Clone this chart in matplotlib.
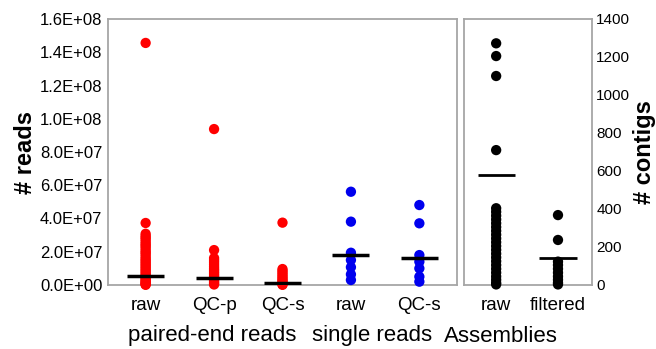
import matplotlib
matplotlib.use("Agg")
import matplotlib.pyplot as plt
import numpy as np

plt.rcParams['font.family'] = ['Liberation Sans', 'DejaVu Sans']

# ---- data ----
read_categories = ["raw", "QC-p", "QC-s", "raw", "QC-s"]
read_colors = ["#ff0000", "#ff0000", "#ff0000", "#0000ee", "#0000ee"]

pe_raw = [1.456e8, 3.73e7, 3.08e7, 2.95e7, 2.85e7, 2.75e7, 2.62e7, 2.5e7, 2.4e7, 2.3e7,
          2.18e7, 2.05e7, 1.95e7, 1.85e7, 1.72e7, 1.6e7, 1.5e7, 1.4e7, 1.3e7, 1.2e7,
          1.1e7, 1.0e7, 9.0e6, 8.0e6, 7.0e6, 6.0e6, 5.2e6, 4.5e6, 3.8e6, 3.0e6,
          2.4e6, 1.8e6, 1.2e6, 8.0e5, 4.0e5, 1.0e5]
pe_qcp = [9.38e7, 2.1e7, 1.62e7, 1.5e7, 1.38e7, 1.25e7, 1.12e7, 1.0e7, 9.0e6, 8.0e6,
          7.0e6, 6.0e6, 5.0e6, 4.0e6, 3.2e6, 2.4e6, 1.6e6, 9.0e5, 3.0e5]
pe_qcs = [3.75e7, 9.6e6, 8.5e6, 7.4e6, 6.3e6, 5.2e6, 4.2e6, 3.2e6, 2.4e6, 1.6e6,
          9.0e5, 4.0e5, 1.0e5]
se_raw = [5.61e7, 3.81e7, 1.94e7, 1.5e7, 1.07e7, 6.4e6, 3.0e6]
se_qcs = [4.81e7, 3.71e7, 1.8e7, 1.4e7, 1.0e7, 5.0e6, 2.0e6]
read_series = [pe_raw, pe_qcp, pe_qcs, se_raw, se_qcs]
read_means = [5.4e6, 4.4e6, 1.4e6, 1.82e7, 1.6e7]

asm_categories = ["raw", "filtered"]
asm_raw = [1272, 1205, 1100, 710, 404, 385, 365, 345, 325, 305, 285, 265, 245, 225,
           205, 185, 165, 145, 125, 105, 85, 65, 45, 28, 12, 3]
asm_filtered = [368, 237, 123, 105, 85, 65, 45, 28, 12, 3]
asm_series = [asm_raw, asm_filtered]
asm_means = [579, 140]

read_ticks = [0, 2e7, 4e7, 6e7, 8e7, 1e8, 1.2e8, 1.4e8, 1.6e8]
read_ticklabels = ["0.0E+00", "2.0E+07", "4.0E+07", "6.0E+07", "8.0E+07",
                   "1.0E+08", "1.2E+08", "1.4E+08", "1.6E+08"]
asm_ticks = [0, 200, 400, 600, 800, 1000, 1200, 1400]

group_labels = ["paired-end reads", "single reads", "Assemblies"]

# ---- figure ----
W, H = 656, 349
fig = plt.figure(figsize=(W / 100, H / 100), dpi=100)
frame_col = "#a6a6a6"

ax1 = fig.add_axes([108 / W, 1 - 285 / H, 349 / W, 266 / H])
ax2 = fig.add_axes([464 / W, 1 - 285 / H, 128 / W, 266 / H])

for i, (vals, col) in enumerate(zip(read_series, read_colors)):
    x = np.full(len(vals), i + 1)
    ax1.scatter(x, vals, s=55, color=col, edgecolors="none", zorder=3, clip_on=False)
    ax1.hlines(read_means[i], i + 1 - 0.27, i + 1 + 0.27, color="black", lw=2.5, zorder=4)

ax1.set_xlim(0.45, 5.55)
ax1.set_ylim(0, 1.6e8)
ax1.set_yticks(read_ticks)
ax1.set_yticklabels(read_ticklabels)
ax1.set_xticks(range(1, 6))
ax1.set_xticklabels(read_categories)
ax1.set_ylabel("# reads", fontsize=17, fontweight="bold", labelpad=2)

for i, (vals) in enumerate(asm_series):
    x = np.full(len(vals), i + 1)
    ax2.scatter(x, vals, s=55, color="black", edgecolors="none", zorder=3, clip_on=False)
    ax2.hlines(asm_means[i], i + 1 - 0.3, i + 1 + 0.3, color="black", lw=2.0, zorder=4)

ax2.set_xlim(0.48, 2.55)
ax2.set_ylim(0, 1400)
ax2.set_yticks(asm_ticks)
ax2.set_xticks([1, 2])
ax2.set_xticklabels(asm_categories)
ax2.yaxis.tick_right()

for ax in (ax1, ax2):
    for sp in ax.spines.values():
        sp.set_color(frame_col)
        sp.set_linewidth(1.3)
    ax.tick_params(axis="both", length=0, labelsize=12)
    ax.tick_params(axis="y", pad=4)
    ax.tick_params(axis="x", pad=9, labelsize=13.5)
ax2.tick_params(axis="y", labelsize=11, pad=3)

fig.text(644 / W, 1 - 152 / H, "# contigs", rotation=90, ha="center", va="center",
         fontsize=17, fontweight="bold")

fig.text(212 / W, 1 - 336 / H, group_labels[0], ha="center", va="center", fontsize=16)
fig.text(372 / W, 1 - 336 / H, group_labels[1], ha="center", va="center", fontsize=16)
fig.text(501 / W, 1 - 336 / H, group_labels[2], ha="center", va="center", fontsize=16)

fig.savefig("out.png", dpi=100)
